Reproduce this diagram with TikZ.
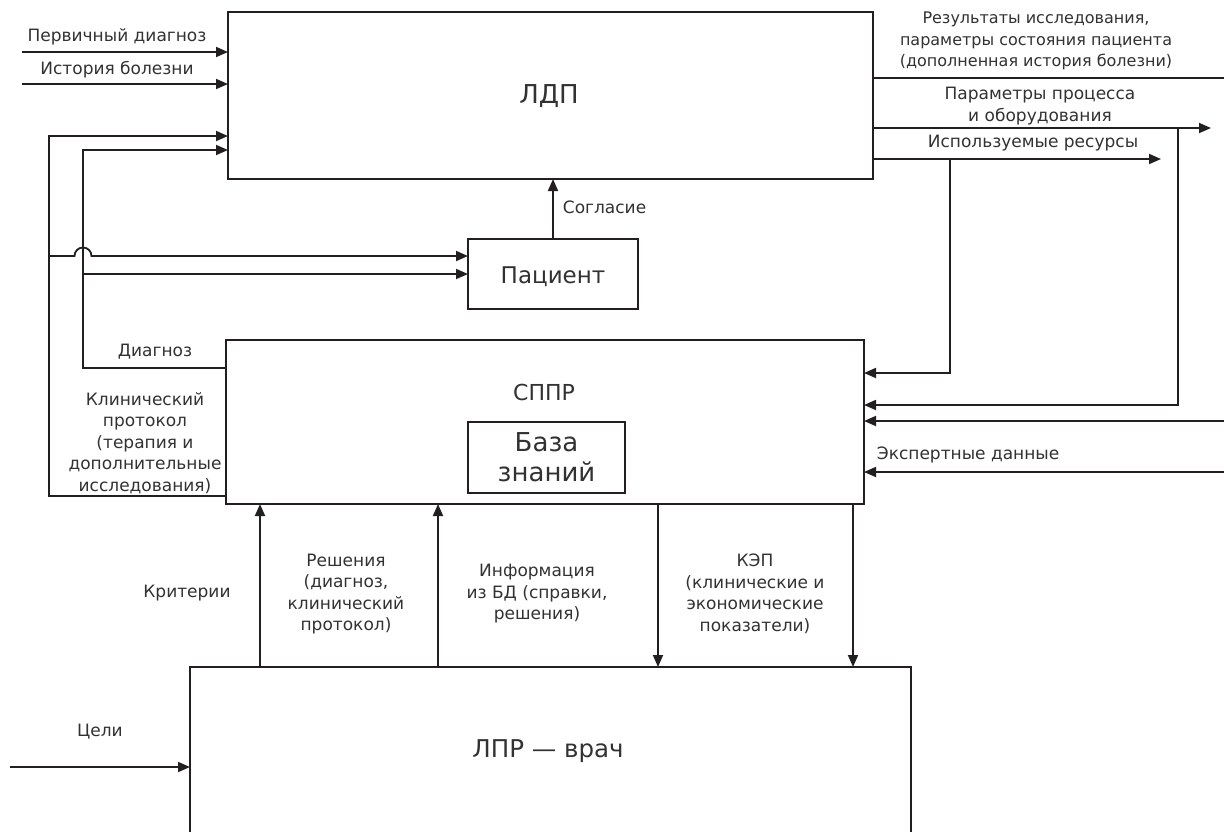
\documentclass[tikz,border=0pt]{standalone}
\usepackage{fontspec}
\setmainfont{DejaVu Sans}
\usetikzlibrary{arrows.meta}
\definecolor{ink}{RGB}{35,31,32}
\definecolor{txt}{RGB}{50,50,50}
\begin{document}
\begin{tikzpicture}[x=1pt,y=-1pt,
  line width=1.8pt, draw=ink,
  box/.style={draw=ink, line width=1.8pt, inner sep=0pt, outer sep=0pt},
  arr/.style={-{Triangle[length=12pt,width=10pt]}},
  lbl/.style={font=\fontsize{17}{21.5}\selectfont, text=txt, align=center, inner sep=0pt},
  big/.style={text=txt, align=center, inner sep=0pt, anchor=base}]
\useasboundingbox[fill=white] (0,0) rectangle (1224,831);

% blocks
\node[box, minimum width=645pt, minimum height=167pt] (ldp) at (550.5,95.5) {};
\node[big, font=\fontsize{26}{30}\selectfont] (ldpname) at (549,103) {ЛДП};
\node[box, minimum width=170pt, minimum height=70pt] (pat) at (553,274) {};
\node[big, font=\fontsize{23}{28}\selectfont] (patname) at (553,283) {Пациент};
\node[box, minimum width=638pt, minimum height=164pt] (sppr) at (545,422) {};
\node[big, font=\fontsize{22}{28}\selectfont] (spprname) at (544,400) {СППР};
\node[box, minimum width=157pt, minimum height=71pt, text=txt, align=center,
      font=\fontsize{26}{30}\selectfont] (kb) at (546.5,457.5) {База\\знаний};
\node[box, minimum width=721pt, minimum height=233pt] (lpr) at (550.5,783.5) {};
\node[big, font=\fontsize{24.5}{30}\selectfont] (lprname) at (548,757) {ЛПР — врач};

% inputs of ЛДП
\coordinate (pdin) at (22,52);
\coordinate (hbin) at (22,84);
\draw[arr] (pdin) -- (pdin -| ldp.west);
\draw[arr] (hbin) -- (hbin -| ldp.west);
\node[lbl] (pdl) at (117,37) {Первичный диагноз};
\node[lbl] (hbl) at (117,70) {История болезни};

% feedback from СППР to ЛДП and to the patient
\draw[arr] (sppr.west |- 0,496) -- (49,496) -- (49,136) -- (ldp.west |- 0,136);
\draw[arr] (49,256) -- (74.5,256) arc[start angle=180, end angle=0, radius=8.5pt] -- (pat.west |- 0,256);
\draw[arr] (sppr.west |- 0,368) -- (83,368) -- (83,150) -- (ldp.west |- 0,150);
\draw[arr] (83,274) -- (pat.west |- 0,274);
\node[lbl] (dgl) at (155,352) {Диагноз};
\node[lbl] (kpl) at (145,443) {Клинический\\протокол\\(терапия и\\дополнительные\\исследования)};

% consent
\draw[arr] (pat.north) -- (pat.north |- ldp.south);
\node[lbl, anchor=west] (agl) at (562,207) {Согласие};

% outputs of ЛДП
\coordinate (res) at (1224,78);
\coordinate (par) at (1211,128);
\coordinate (rsc) at (1161,159);
\draw (ldp.east |- res) -- (res);
\draw[arr] (ldp.east |- par) -- (par);
\draw[arr] (ldp.east |- rsc) -- (rsc);
\node[lbl, font=\fontsize{16}{21.5}\selectfont] (resl) at (1036,41) {Результаты исследования,\\параметры состояния пациента\\(дополненная история болезни)};
\node[lbl] (parl) at (1040,106) {Параметры процесса\\и оборудования};
\node[lbl] (rscl) at (1033,143) {Используемые ресурсы};

% inputs of СППР on the right
\draw[arr] (950,159) -- (950,373) -- (sppr.east |- 0,373);
\draw[arr] (1178,128) -- (1178,405) -- (sppr.east |- 0,405);
\coordinate (ext1) at (1224,421);
\coordinate (ext2) at (1224,472);
\draw[arr] (ext1) -- (sppr.east |- ext1);
\draw[arr] (ext2) -- (sppr.east |- ext2);
\node[lbl, anchor=west] (exl) at (876,455) {Экспертные данные};

% links between ЛПР and СППР
\draw[arr] (lpr.north -| 260,0) -- (sppr.south -| 260,0);
\draw[arr] (lpr.north -| 438,0) -- (sppr.south -| 438,0);
\draw[arr] (sppr.south -| 658,0) -- (lpr.north -| 658,0);
\draw[arr] (sppr.south -| 853,0) -- (lpr.north -| 853,0);
\node[lbl] (crl) at (187,593) {Критерии};
\node[lbl] (dcl) at (346,594) {Решения\\(диагноз,\\клинический\\протокол)};
\node[lbl] (dbl) at (537,594) {Информация\\из БД (справки,\\решения)};
\node[lbl] (kepl) at (755,594) {КЭП\\(клинические и\\экономические\\показатели)};

% goals
\coordinate (gin) at (10,767);
\draw[arr] (gin) -- (gin -| lpr.west);
\node[lbl] (gl) at (100,732) {Цели};
\end{tikzpicture}
\end{document}
